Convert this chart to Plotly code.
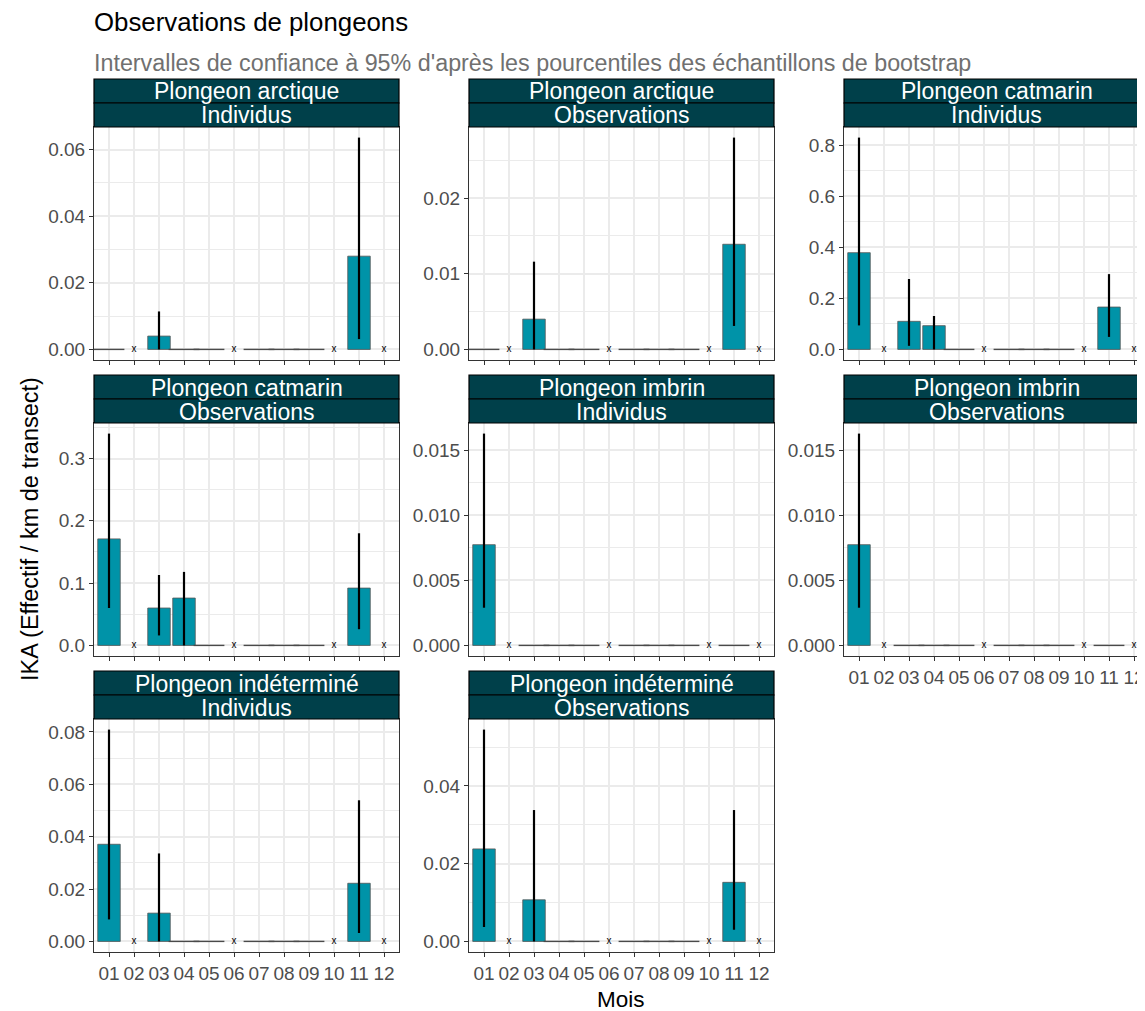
import plotly.graph_objects as go

# ---------------- data ----------------
months = ["01", "02", "03", "04", "05", "06", "07", "08", "09", "10", "11", "12"]
strip_species = ["Plongeon arctique", "Plongeon arctique", "Plongeon catmarin", "Plongeon catmarin",
                 "Plongeon imbrin", "Plongeon imbrin", "Plongeon indéterminé", "Plongeon indéterminé"]
strip_metric = ["Individus", "Observations", "Individus", "Observations",
                "Individus", "Observations", "Individus", "Observations"]

arctique_ind = [0, None, 0.0040, 0, 0, None, 0, 0, 0, None, 0.0280, None]
arctique_ind_lo = [0, None, 0.0, 0, 0, None, 0, 0, 0, None, 0.0031, None]
arctique_ind_hi = [0, None, 0.0114, 0, 0, None, 0, 0, 0, None, 0.0636, None]

arctique_obs = [0, None, 0.0040, 0, 0, None, 0, 0, 0, None, 0.0139, None]
arctique_obs_lo = [0, None, 0.0, 0, 0, None, 0, 0, 0, None, 0.0031, None]
arctique_obs_hi = [0, None, 0.0116, 0, 0, None, 0, 0, 0, None, 0.0280, None]

catmarin_ind = [0.379, None, 0.110, 0.093, 0, None, 0, 0, 0, None, 0.166, None]
catmarin_ind_lo = [0.094, None, 0.014, 0.0, 0, None, 0, 0, 0, None, 0.049, None]
catmarin_ind_hi = [0.830, None, 0.276, 0.131, 0, None, 0, 0, 0, None, 0.295, None]

catmarin_obs = [0.171, None, 0.060, 0.076, 0, None, 0, 0, 0, None, 0.092, None]
catmarin_obs_lo = [0.060, None, 0.016, 0.0, 0, None, 0, 0, 0, None, 0.026, None]
catmarin_obs_hi = [0.340, None, 0.113, 0.118, 0, None, 0, 0, 0, None, 0.180, None]

imbrin_ind = [0.00775, None, 0, 0, 0, None, 0, 0, 0, None, 0, None]
imbrin_ind_lo = [0.0029, None, 0, 0, 0, None, 0, 0, 0, None, 0, None]
imbrin_ind_hi = [0.0163, None, 0, 0, 0, None, 0, 0, 0, None, 0, None]

imbrin_obs = [0.00775, None, 0, 0, 0, None, 0, 0, 0, None, 0, None]
imbrin_obs_lo = [0.0029, None, 0, 0, 0, None, 0, 0, 0, None, 0, None]
imbrin_obs_hi = [0.0163, None, 0, 0, 0, None, 0, 0, 0, None, 0, None]

indet_ind = [0.0371, None, 0.0108, 0, 0, None, 0, 0, 0, None, 0.0222, None]
indet_ind_lo = [0.0084, None, 0.0, 0, 0, None, 0, 0, 0, None, 0.0032, None]
indet_ind_hi = [0.0809, None, 0.0336, 0, 0, None, 0, 0, 0, None, 0.0539, None]

indet_obs = [0.0238, None, 0.0107, 0, 0, None, 0, 0, 0, None, 0.0152, None]
indet_obs_lo = [0.0037, None, 0.0, 0, 0, None, 0, 0, 0, None, 0.0030, None]
indet_obs_hi = [0.0545, None, 0.0338, 0, 0, None, 0, 0, 0, None, 0.0338, None]

tick_steps = [0.02, 0.01, 0.2, 0.1, 0.005, 0.005, 0.02, 0.02]
tick_formats = [".2f", ".2f", ".1f", ".1f", ".3f", ".3f", ".2f", ".2f"]

series = [
    (arctique_ind, arctique_ind_lo, arctique_ind_hi),
    (arctique_obs, arctique_obs_lo, arctique_obs_hi),
    (catmarin_ind, catmarin_ind_lo, catmarin_ind_hi),
    (catmarin_obs, catmarin_obs_lo, catmarin_obs_hi),
    (imbrin_ind, imbrin_ind_lo, imbrin_ind_hi),
    (imbrin_obs, imbrin_obs_lo, imbrin_obs_hi),
    (indet_ind, indet_ind_lo, indet_ind_hi),
    (indet_obs, indet_obs_lo, indet_obs_hi),
]

# ---------------- layout geometry ----------------
VIEW_W, VIEW_H = 1145, 1011
OFF = 8  # default page body margin
W, H = VIEW_W - OFF, VIEW_H - OFF
FONT = "Liberation Sans, Arial, sans-serif"
BAR_FILL = "#0093A8"
STRIP_FILL = "#00404A"
GRID = "#EBEBEB"

def px_x(p):
    return (p - OFF) / W

def px_y(p):
    return 1 - (p - OFF) / H

col_left = [94, 469, 844]
panel_w = 305
unit = panel_w / 12.2
strip_top = [79, 375, 671]
plot_top = [127, 423, 719]
plot_bot = [360, 656, 952]

fig = go.Figure()
layout = dict(
    width=W, height=H,
    margin=dict(l=0, r=0, t=0, b=0),
    paper_bgcolor="white", plot_bgcolor="white",
    showlegend=False,
    font=dict(family=FONT, color="#4D4D4D"),
    bargap=0.1,
)
shapes = []
annotations = []

xvals = list(range(1, 13))

for i, (vals, lo, hi) in enumerate(series):
    r, c = divmod(i, 3)
    idx = "" if i == 0 else str(i + 1)
    xa, ya = "x" + idx, "y" + idx

    left = col_left[c]
    right = min(left + panel_w, VIEW_W)
    x_hi = 0.4 + (right - left) / unit

    # bars with value > 0
    bx = [m for m, v in zip(xvals, vals) if v is not None and v > 0]
    by = [v for v in vals if v is not None and v > 0]
    bplus = [h - v for v, h in zip(vals, hi) if v is not None and v > 0]
    bminus = [v - l for v, l in zip(vals, lo) if v is not None and v > 0]
    fig.add_trace(go.Bar(
        x=bx, y=by, width=0.9, xaxis=xa, yaxis=ya,
        marker=dict(color=BAR_FILL, line=dict(color="#555555", width=0.8)),
        error_y=dict(type="data", symmetric=False, array=bplus, arrayminus=bminus,
                     width=0, thickness=2.2, color="black"),
        hoverinfo="skip",
    ))
    # zero-valued months
    zx = [m for m, v in zip(xvals, vals) if v == 0]
    fig.add_trace(go.Scatter(
        x=zx, y=[0] * len(zx), mode="markers", xaxis=xa, yaxis=ya,
        marker=dict(symbol="line-ew", size=22, color="#4a4a4a",
                    line=dict(width=1.4, color="#4a4a4a")),
        hoverinfo="skip",
    ))
    # missing months
    nx = [m for m, v in zip(xvals, vals) if v is None]
    fig.add_trace(go.Scatter(
        x=nx, y=[0] * len(nx), mode="text", text=["x"] * len(nx),
        textposition="middle center", xaxis=xa, yaxis=ya,
        textfont=dict(size=10, color="black", family=FONT),
        hoverinfo="skip",
    ))

    ymax = max(h for h in hi if h is not None)
    step = tick_steps[i]
    show_xlabels = (r == 2) or (i == 5)

    layout["xaxis" + idx] = dict(
        domain=[px_x(left), min(px_x(right), 1.0)],
        anchor=ya, range=[0.4, x_hi],
        tickmode="array", tickvals=xvals, ticktext=months,
        showticklabels=show_xlabels,
        tickfont=dict(size=19, color="#4D4D4D", family=FONT),
        ticks="outside", ticklen=4, tickcolor="#333333", tickwidth=1,
        showgrid=True, gridcolor=GRID, gridwidth=1.6,
        showline=True, linecolor="#333333", linewidth=1, mirror=True,
        zeroline=False, fixedrange=True,
    )
    layout["yaxis" + idx] = dict(
        domain=[px_y(plot_bot[r]), px_y(plot_top[r])],
        anchor=xa, range=[-0.05 * ymax, 1.05 * ymax],
        tickmode="linear", tick0=0, dtick=step, tickformat=tick_formats[i],
        tickfont=dict(size=19, color="#4D4D4D", family=FONT),
        ticks="outside", ticklen=4, tickcolor="#333333", tickwidth=1,
        showgrid=True, gridcolor=GRID, gridwidth=1.6,
        minor=dict(dtick=step / 2, tick0=0, showgrid=True, gridcolor=GRID, gridwidth=0.8),
        showline=True, linecolor="#333333", linewidth=1, mirror=(c != 2),
        zeroline=False, fixedrange=True,
    )

    # strips
    full_right = left + panel_w
    mid = strip_top[r] + (plot_top[r] - strip_top[r]) / 2
    for (t, b) in [(strip_top[r], mid), (mid, plot_top[r])]:
        shapes.append(dict(type="rect", xref="paper", yref="paper",
                           x0=px_x(left), x1=px_x(full_right), y0=px_y(b), y1=px_y(t),
                           fillcolor=STRIP_FILL, line=dict(color="black", width=1.2),
                           layer="above"))
    cx = px_x(left + panel_w / 2)
    annotations.append(dict(text=strip_species[i], x=cx, y=px_y((strip_top[r] + mid) / 2 + 0.5),
                            xref="paper", yref="paper", showarrow=False,
                            xanchor="center", yanchor="middle",
                            font=dict(size=23, color="white", family=FONT)))
    annotations.append(dict(text=strip_metric[i], x=cx, y=px_y((mid + plot_top[r]) / 2 + 0.5),
                            xref="paper", yref="paper", showarrow=False,
                            xanchor="center", yanchor="middle",
                            font=dict(size=23, color="white", family=FONT)))

# titles
annotations.append(dict(text="Observations de plongeons", x=px_x(92), y=px_y(22),
                        xref="paper", yref="paper", showarrow=False,
                        xanchor="left", yanchor="middle",
                        font=dict(size=25.8, color="black", family=FONT)))
annotations.append(dict(text="Intervalles de confiance à 95% d'après les pourcentiles des échantillons de bootstrap",
                        x=px_x(92), y=px_y(63), xref="paper", yref="paper", showarrow=False,
                        xanchor="left", yanchor="middle",
                        font=dict(size=23.3, color="#707070", family=FONT)))
annotations.append(dict(text="IKA (Effectif / km de transect)", x=px_x(30), y=px_y(529),
                        xref="paper", yref="paper", showarrow=False, textangle=-90,
                        xanchor="center", yanchor="middle",
                        font=dict(size=23.5, color="black", family=FONT)))
annotations.append(dict(text="Mois", x=px_x(621), y=px_y(999),
                        xref="paper", yref="paper", showarrow=False,
                        xanchor="center", yanchor="middle",
                        font=dict(size=22.5, color="black", family=FONT)))

layout["shapes"] = shapes
layout["annotations"] = annotations
fig.update_layout(**layout)

fig.write_html("out.html", config={"displayModeBar": False})
